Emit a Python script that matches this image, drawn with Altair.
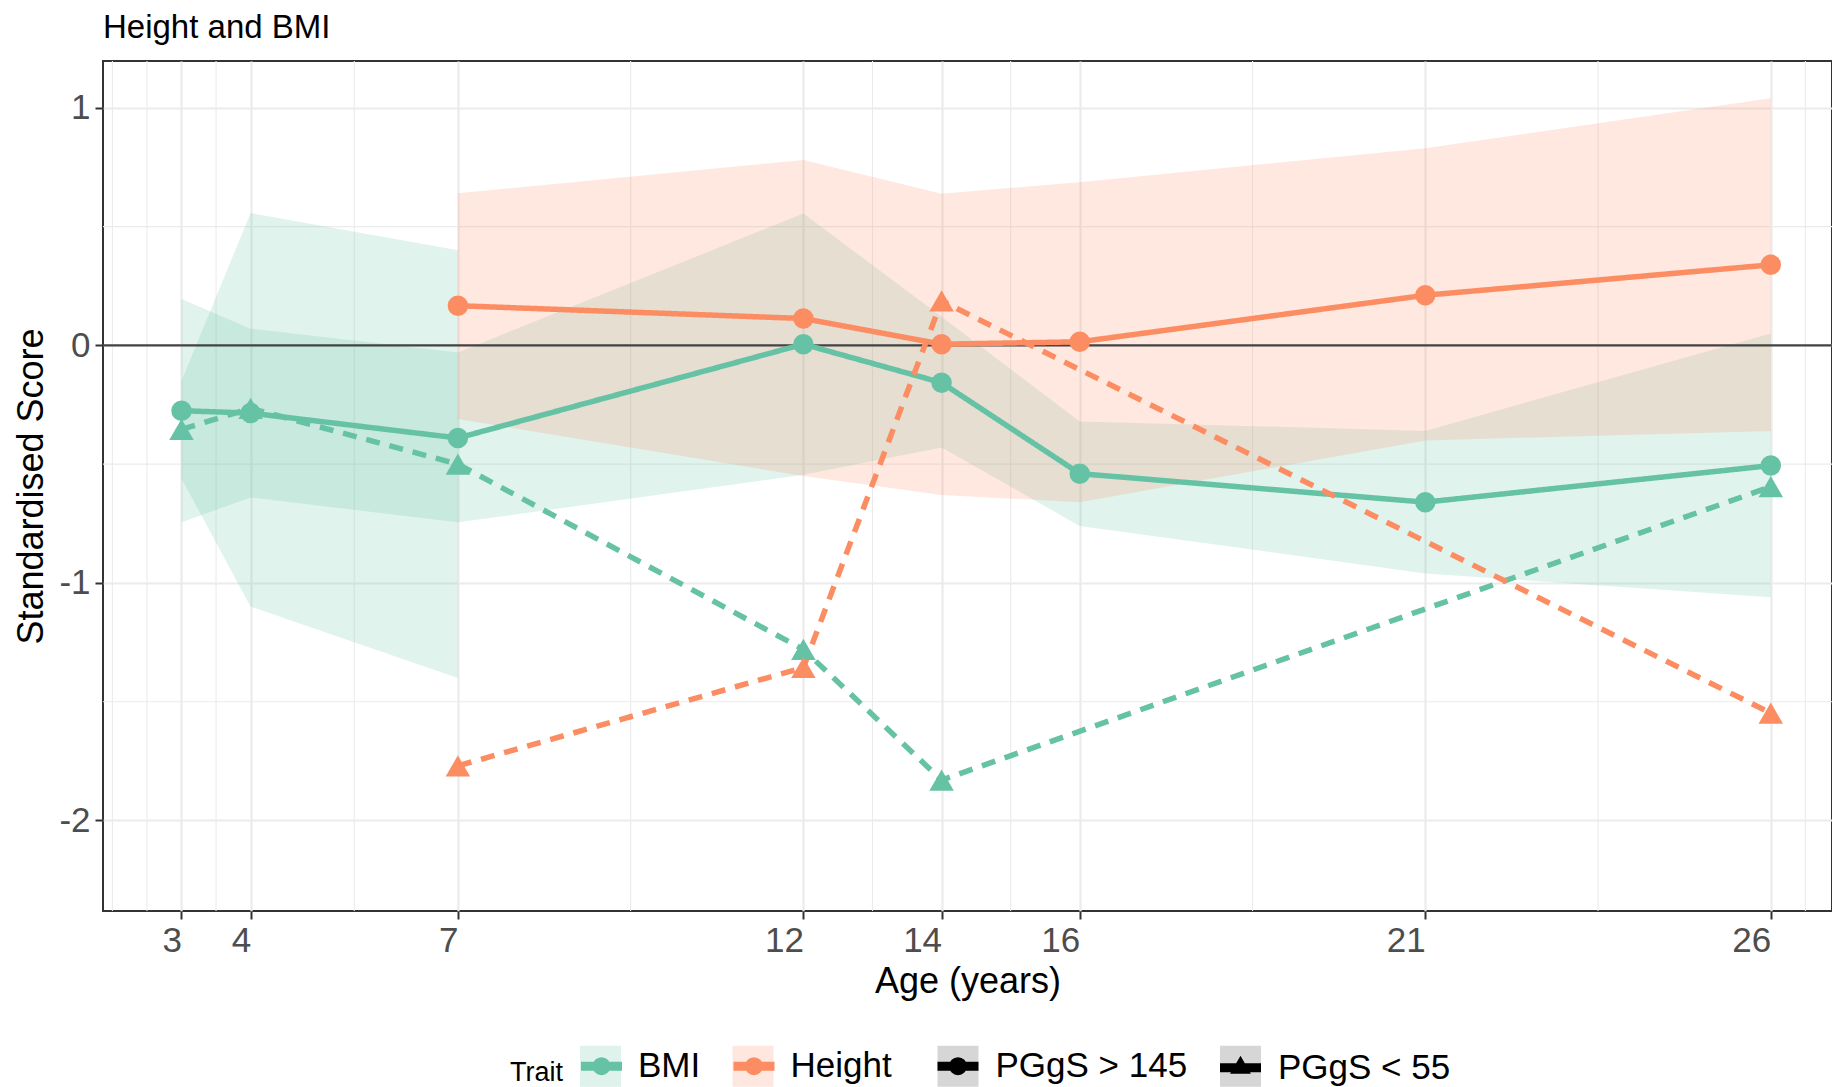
import altair as alt
import pandas as pd

# ---------------- data ----------------
TRAITS = ["BMI", "Height"]
GROUPS = ["PGgS > 145", "PGgS < 55"]
TRAIT_COLORS = ["#66c2a5", "#fc8d62"]
AGE_TICKS = [3, 4, 7, 12, 14, 16, 21, 26]
Y_TICKS = [-2, -1, 0, 1]
MINOR_X = [2, 2.5, 3.5, 5.5, 9.5, 13, 15, 18.5, 23.5, 26.5]
MINOR_Y = [-1.5, -0.5, 0.5]
ZERO_LINE = [0]

# BMI, PGgS > 145
bmi_hi_age = [3, 4, 7, 12, 14, 16, 21, 26]
bmi_hi_score = [-0.275, -0.285, -0.39, 0.005, -0.157, -0.54, -0.66, -0.506]
bmi_hi_lower = [-0.745, -0.64, -0.745, -0.545, -0.43, -0.76, -0.96, -1.06]
bmi_hi_upper = [0.195, 0.07, -0.03, 0.555, 0.12, -0.32, -0.36, 0.05]
# BMI, PGgS < 55
bmi_lo_age = [3, 4, 7, 12, 14, 26]
bmi_lo_score = [-0.354, -0.265, -0.50, -1.28, -1.83, -0.595]
bmi_lo_ci_age = [3, 4, 7]
bmi_lo_lower = [-0.56, -1.10, -1.40]
bmi_lo_upper = [-0.15, 0.557, 0.40]
# Height, PGgS > 145
ht_hi_age = [7, 12, 14, 16, 21, 26]
ht_hi_score = [0.167, 0.113, 0.005, 0.015, 0.211, 0.339]
ht_hi_lower = [-0.31, -0.55, -0.63, -0.66, -0.40, -0.36]
ht_hi_upper = [0.64, 0.78, 0.638, 0.687, 0.83, 1.04]
# Height, PGgS < 55
ht_lo_age = [7, 12, 14, 26]
ht_lo_score = [-1.77, -1.356, 0.187, -1.548]

# ---------------- tables ----------------
def series(trait, group, ages, scores):
    return pd.DataFrame({"Trait": trait, "Group": group, "Age": ages,
                         "Score": scores, "Series": trait + " " + group})

def band(trait, group, ages, lo, up):
    return pd.DataFrame({"Trait": trait, "Group": group, "Age": ages,
                         "lower": lo, "upper": up, "Series": trait + " " + group})

pts = pd.concat([
    series("BMI", GROUPS[0], bmi_hi_age, bmi_hi_score),
    series("BMI", GROUPS[1], bmi_lo_age, bmi_lo_score),
    series("Height", GROUPS[0], ht_hi_age, ht_hi_score),
    series("Height", GROUPS[1], ht_lo_age, ht_lo_score),
], ignore_index=True)

ribbons = pd.concat([
    band("BMI", GROUPS[0], bmi_hi_age, bmi_hi_lower, bmi_hi_upper),
    band("BMI", GROUPS[1], bmi_lo_ci_age, bmi_lo_lower, bmi_lo_upper),
    band("Height", GROUPS[0], ht_hi_age, ht_hi_lower, ht_hi_upper),
], ignore_index=True)

minor_x = pd.DataFrame({"v": MINOR_X})
minor_y = pd.DataFrame({"v": MINOR_Y})
zero = pd.DataFrame({"v": ZERO_LINE})

# ---------------- styling ----------------
FONT = "Liberation Sans"
x_scale = alt.Scale(domain=[1.864, 26.886], nice=False, zero=False)
y_scale = alt.Scale(domain=[-2.381, 1.197], nice=False, zero=False)
color_scale = alt.Scale(domain=TRAITS, range=TRAIT_COLORS)

x_axis = alt.Axis(values=AGE_TICKS, title="Age (years)", grid=True, gridColor="#ebebeb",
                  gridWidth=2.2, domain=False, tickColor="#333333", tickWidth=2, tickSize=8,
                  labelFontSize=35, labelColor="#4d4d4d", labelAlign="right", labelPadding=4,
                  labelOverlap=False, labelFlush=False, labelFont=FONT,
                  titleFont=FONT, titleFontSize=36, titleFontWeight="normal",
                  titleColor="black", titlePadding=6)
y_axis = alt.Axis(values=Y_TICKS, title="Standardised Score", grid=True, gridColor="#ebebeb",
                  gridWidth=2.2, domain=False, tickColor="#333333", tickWidth=2, tickSize=8,
                  labelFontSize=35, labelColor="#4d4d4d", labelPadding=5, labelFont=FONT,
                  labelExpr="'' + datum.value", labelOverlap=False, labelFlush=False,
                  titleFont=FONT, titleFontSize=36, titleFontWeight="normal",
                  titleColor="black", titlePadding=8)

X = lambda f: alt.X(f, scale=x_scale, axis=x_axis)
Y = lambda f: alt.Y(f, scale=y_scale, axis=y_axis)

# ---------------- plot layers ----------------
grid_x = alt.Chart(minor_x).mark_rule(color="#ebebeb", strokeWidth=1.1).encode(x=X("v:Q"))
grid_y = alt.Chart(minor_y).mark_rule(color="#ebebeb", strokeWidth=1.1).encode(y=Y("v:Q"))

area = alt.Chart(ribbons).mark_area(opacity=0.2).encode(
    x=X("Age:Q"), y=Y("lower:Q"), y2="upper:Q",
    color=alt.Color("Trait:N", scale=color_scale, legend=None),
    detail="Series:N")

zero_rule = alt.Chart(zero).mark_rule(color="#444444", strokeWidth=2.2).encode(y=Y("v:Q"))

lines = alt.Chart(pts).mark_line(strokeWidth=5.5).encode(
    x=X("Age:Q"), y=Y("Score:Q"),
    color=alt.Color("Trait:N", scale=color_scale, legend=None),
    strokeDash=alt.StrokeDash("Group:N", scale=alt.Scale(domain=GROUPS, range=[[1, 0], [14, 10]]),
                              legend=None),
    detail="Series:N")

points = alt.Chart(pts).mark_point(filled=True, opacity=1).encode(
    x=X("Age:Q"), y=Y("Score:Q"),
    color=alt.Color("Trait:N", scale=color_scale, legend=None),
    shape=alt.Shape("Group:N", scale=alt.Scale(domain=GROUPS, range=["circle", "triangle-up"]),
                    legend=None),
    size=alt.Size("Group:N", scale=alt.Scale(domain=GROUPS, range=[420, 600]), legend=None))

# ---------------- legends (ggplot-like keys) ----------------
PATH_CIRCLE = "M-1,0L1,0M0.22,0A0.22,0.22,0,1,1,-0.22,0A0.22,0.22,0,1,1,0.22,0Z"
PATH_TRI = "M-1,0L1,0M0,-0.146L0.127,0.073L-0.127,0.073Z"

common = dict(orient="none", legendY=980, direction="horizontal", padding=0,
              symbolSize=1681, symbolStrokeWidth=9, labelFontSize=35, labelFont=FONT,
              labelOffset=12.5, columnPadding=13.5, labelLimit=500)

key_box = alt.Chart(pts).transform_filter("false").mark_point(filled=True).encode(
    fill=alt.Fill("Trait:N", scale=color_scale, legend=alt.Legend(
        **common, legendX=407, title="Trait", titleColor="black", labelColor="black",
        titleFont=FONT, titleFontSize=27, titleFontWeight="normal",
        titleOrient="left", titleAnchor="middle", titleBaseline="middle", titlePadding=12.5,
        symbolType="square", symbolOpacity=0.2, symbolStrokeColor="transparent", zindex=0)))

key_line = alt.Chart(pts).transform_filter("false").mark_point(filled=False).encode(
    stroke=alt.Stroke("Trait:N", scale=color_scale, legend=alt.Legend(
        **common, legendX=473.5, title=None,
        labelColor="transparent", symbolType=PATH_CIRCLE, symbolOpacity=1,
        symbolFillColor="transparent", zindex=1)))

grp_box = alt.Chart(pts).transform_filter("false").mark_point(filled=True, color="#d6d6d6").encode(
    shape=alt.Shape("Group:N", scale=alt.Scale(domain=GROUPS, range=["square", "square"]),
                    legend=alt.Legend(**common, legendX=830, title=None,
                                      labelColor="transparent", symbolOpacity=1,
                                      symbolStrokeColor="transparent", zindex=0)))

grp_line = alt.Chart(pts).transform_filter("false").mark_point(filled=False).encode(
    shape=alt.Shape("Group:N", scale=alt.Scale(domain=GROUPS, range=[PATH_CIRCLE, PATH_TRI]),
                    legend=alt.Legend(**common, legendX=830, title=None,
                                      labelColor="black", symbolOpacity=1,
                                      symbolStrokeColor="black", symbolFillColor="transparent",
                                      zindex=1)))

chart = alt.layer(
    grid_x, grid_y, area, zero_rule, lines, points, key_box, key_line, grp_box, grp_line
).resolve_scale(
    shape="independent", fill="independent", stroke="independent"
).properties(
    width=1729, height=850,
    title=alt.TitleParams("Height and BMI", anchor="start", frame="group", fontSize=33,
                          fontWeight="normal", color="black", font=FONT,
                          baseline="alphabetic", offset=22, dy=33),
    autosize=alt.AutoSizeParams(type="none"),
    padding={"left": 103, "top": 61, "right": 0, "bottom": 176},
).configure(
    font=FONT, background="white",
    view=alt.ViewConfig(stroke="#333333", strokeWidth=2),
)

chart.save("out.html", embed_options={"renderer": "svg", "actions": False})
